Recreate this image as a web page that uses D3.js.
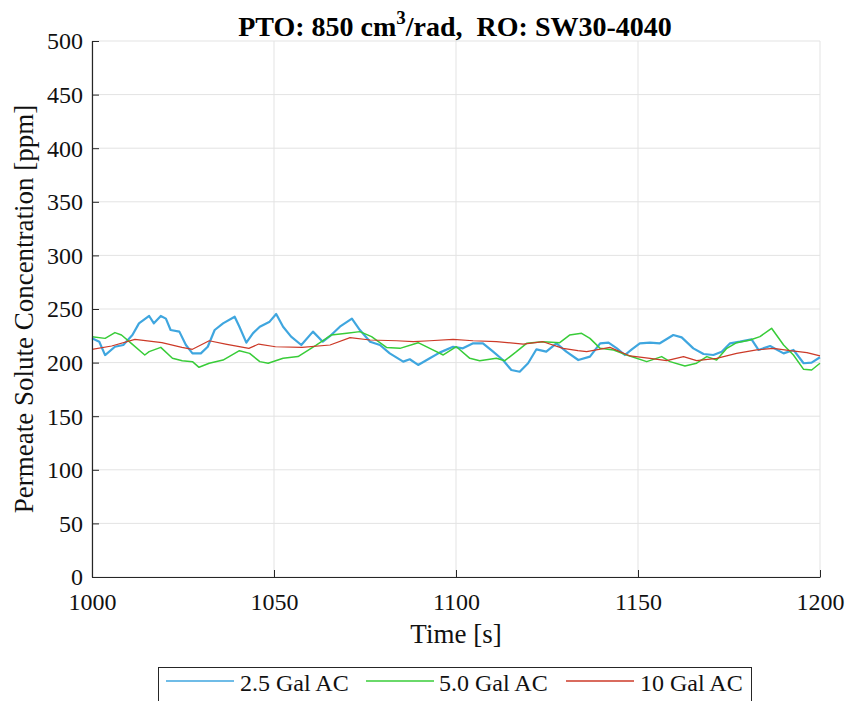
<!DOCTYPE html>
<html><head><meta charset="utf-8">
<script src="https://cdn.jsdelivr.net/npm/d3@7"></script>
<style>body{margin:0;background:#fff}svg{display:block}</style>
</head><body><svg id="c" width="847" height="701"></svg>
<script>
const FONT="'Liberation Serif', Tinos, 'Times New Roman', Times, 'DejaVu Serif', serif";
const xTicks=[1000,1050,1100,1150,1200];
const yTicks=[0,50,100,150,200,250,300,350,400,450,500];
const seriesNames=["2.5 Gal AC","5.0 Gal AC","10 Gal AC"];
const seriesColors=["#3fa6df","#38cc38","#cc3a28"];
const blueT=[1000,1002,1003.6,1006.3,1008.6,1011.1,1012.9,1015.7,1017,1018.9,1020.3,1021.6,1024,1025.8,1027.6,1029.9,1031.8,1033.7,1036,1039.2,1040.5,1042.4,1044.2,1046.1,1048.8,1050.6,1052.5,1054.7,1057.5,1060.7,1063.4,1065.7,1068.1,1071.4,1073.6,1076.4,1079.1,1081.8,1085.5,1087.3,1089.6,1092.8,1095.5,1099.2,1101.9,1104.7,1107.4,1110.2,1112.9,1115.2,1117.5,1119.8,1122.1,1124.8,1127.6,1130.3,1133.6,1136.8,1139.6,1141.9,1144.2,1146.4,1148.3,1150.5,1153.3,1156,1159.7,1162,1165.2,1168,1170.7,1173,1175.3,1178,1181.2,1183.1,1186.3,1190,1192.7,1195.5,1197.7,1200];
const blueV=[222.6,219.5,207,214.8,216.4,225.7,236.6,243.5,236.6,243.5,241,230.4,228.9,216.4,208.6,208.6,214.8,230.4,236.6,242.8,233.5,218.6,227.3,233.5,238.2,245.3,233.5,224.2,216.4,228.9,219.5,225.7,233.5,241,230.4,219.5,216.4,208.6,200.9,203.1,197.8,204,209.3,214.8,213.3,218,218,210.2,202.4,193.1,191.5,199.4,212.4,210.2,218,210.2,202.4,205.6,218,218.6,213.3,207.1,212.4,218,218.6,218,225.7,223.5,213.3,208,207.1,210.2,218,219.5,221.7,211.8,215.5,208.6,211.8,199.4,200,205];
const greenT=[1000,1003.6,1006.3,1008.1,1010.8,1014.5,1015.7,1018.9,1022.1,1024.8,1027.6,1029.4,1032.2,1036,1040.5,1043.3,1046.1,1048.4,1052.5,1056.6,1061.6,1065.7,1070,1073.6,1076.8,1080.9,1084.6,1089.6,1092.8,1096.5,1100.1,1103.8,1106.5,1111.1,1113.4,1116.6,1119.4,1123.9,1128.5,1131.2,1134.5,1136.8,1139.6,1143.3,1146.9,1152.4,1156.5,1158.8,1162.9,1166.1,1168.9,1171.6,1174.4,1177.1,1180.8,1183.5,1186.7,1190,1192.7,1195.5,1197.7,1200];
const greenV=[224.2,222.6,228,225.7,218,207.1,210.2,214.2,204,201.8,200.9,195.6,199.4,202.4,211.1,208.6,200.9,199.4,204,205.6,216.4,225.7,227.3,228.9,224.2,214.2,213.3,218.6,213.3,207.1,214.8,204,201.8,204,201.8,210.2,218,219.5,218.6,225.7,227.3,222.6,213.3,211.8,207.1,200.9,205.6,200.9,196.8,199.4,205.6,202.4,213.3,218.6,221.1,224.2,232,216.4,207.1,193.7,193.1,199.4];
const redT=[1000,1005.4,1011.8,1019.2,1024.7,1027.6,1032.2,1036.7,1043.1,1045.8,1050.4,1057.7,1065.4,1070.9,1076.4,1083.7,1088.3,1092.8,1099.2,1104.7,1111.1,1118.5,1123.9,1129.4,1133.5,1135.9,1142.3,1147.8,1153.3,1157.9,1162.5,1166.1,1171.6,1177.1,1182.6,1187.2,1191.8,1196.4,1200];
const redV=[212.4,215.5,221.7,218.6,214.2,212.4,220.4,217.3,213.3,217.3,214.8,214.2,216.4,223.3,221.1,220.4,219.5,220.4,221.7,220.4,219.5,217.3,219.5,213.3,211.1,210.2,214.2,206.2,204,201.8,205.6,201.8,204,208.6,211.8,213.3,211.1,209.3,206.2];

const svg=d3.select("#c").style("font-family",FONT);
const L=92,R=820,T=41,B=577;
const x=d3.scaleLinear().domain([1000,1200]).range([L,R]);
const y=d3.scaleLinear().domain([0,500]).range([B,T]);

const g=svg.append("g");
g.selectAll("line.vg").data(xTicks).enter().append("line")
 .attr("x1",d=>x(d)).attr("x2",d=>x(d)).attr("y1",T).attr("y2",B)
 .attr("stroke","#e3e3e3").attr("stroke-width",1);
g.selectAll("line.hg").data(yTicks).enter().append("line")
 .attr("x1",L).attr("x2",R).attr("y1",d=>y(d)).attr("y2",d=>y(d))
 .attr("stroke","#e3e3e3").attr("stroke-width",1);

const data=[[blueT,blueV],[greenT,greenV],[redT,redV]];
const line=d3.line().x(d=>x(d[0])).y(d=>y(d[1]));
const widths=[2.2,1.5,1.2];
data.forEach((s,i)=>{
  const pts=s[0].map((t,j)=>[t,s[1][j]]);
  svg.append("path").datum(pts).attr("d",line).attr("fill","none")
   .attr("stroke",seriesColors[i]).attr("stroke-width",widths[i]).attr("stroke-linejoin","round");
});

const xa=svg.append("g").attr("transform",`translate(0,${B})`)
 .call(d3.axisBottom(x).tickValues(xTicks).tickFormat(d3.format("d")).tickSizeInner(-7).tickSizeOuter(0));
const ya=svg.append("g").attr("transform",`translate(${L},0)`)
 .call(d3.axisLeft(y).tickValues(yTicks).tickSizeInner(-7).tickSizeOuter(0));
[xa,ya].forEach(a=>{
  a.attr("font-family",FONT);
  a.select(".domain").attr("stroke","#262626").attr("stroke-width",1.2);
  a.selectAll(".tick line").attr("stroke","#262626");
  a.selectAll("text").attr("font-family",FONT).attr("font-size",24).attr("fill","#111");
});
xa.selectAll("text").attr("y",33).attr("dy",0);
ya.selectAll("text").attr("x",-9).attr("dy","0.33em");

svg.append("text").attr("x",(L+R)/2).attr("y",643).attr("text-anchor","middle")
 .attr("font-family",FONT).attr("font-size",27).attr("fill","#111").text("Time [s]");
svg.append("text").attr("transform",`translate(33,${(T+B)/2}) rotate(-90)`).attr("text-anchor","middle")
 .attr("font-family",FONT).attr("font-size",27).attr("fill","#111").text("Permeate Solute Concentration [ppm]");
const title=svg.append("text").attr("x",455).attr("y",36).attr("text-anchor","middle")
 .attr("font-family",FONT).attr("font-size",28).attr("font-weight","bold").attr("fill","#000");
title.append("tspan").text("PTO: 850 cm");
title.append("tspan").attr("dy",-12).attr("font-size",19).text("3");
title.append("tspan").attr("dy",12).text("/rad,\u00a0\u00a0RO: SW30-4040");

const lg=svg.append("g");
lg.append("rect").attr("x",158.5).attr("y",667.5).attr("width",593).attr("height",40)
 .attr("fill","#fff").attr("stroke","#262626").attr("stroke-width",1);
const lx=[166,366,566];
const tx=[240,439,640];
seriesNames.forEach((n,i)=>{
  lg.append("line").attr("x1",lx[i]).attr("x2",lx[i]+68).attr("y1",681).attr("y2",681)
   .attr("stroke",seriesColors[i]).attr("stroke-width",1.4);
  lg.append("text").attr("x",tx[i]).attr("y",691).attr("font-family",FONT).attr("font-size",24).attr("fill","#111").text(n);
});
</script></body></html>
